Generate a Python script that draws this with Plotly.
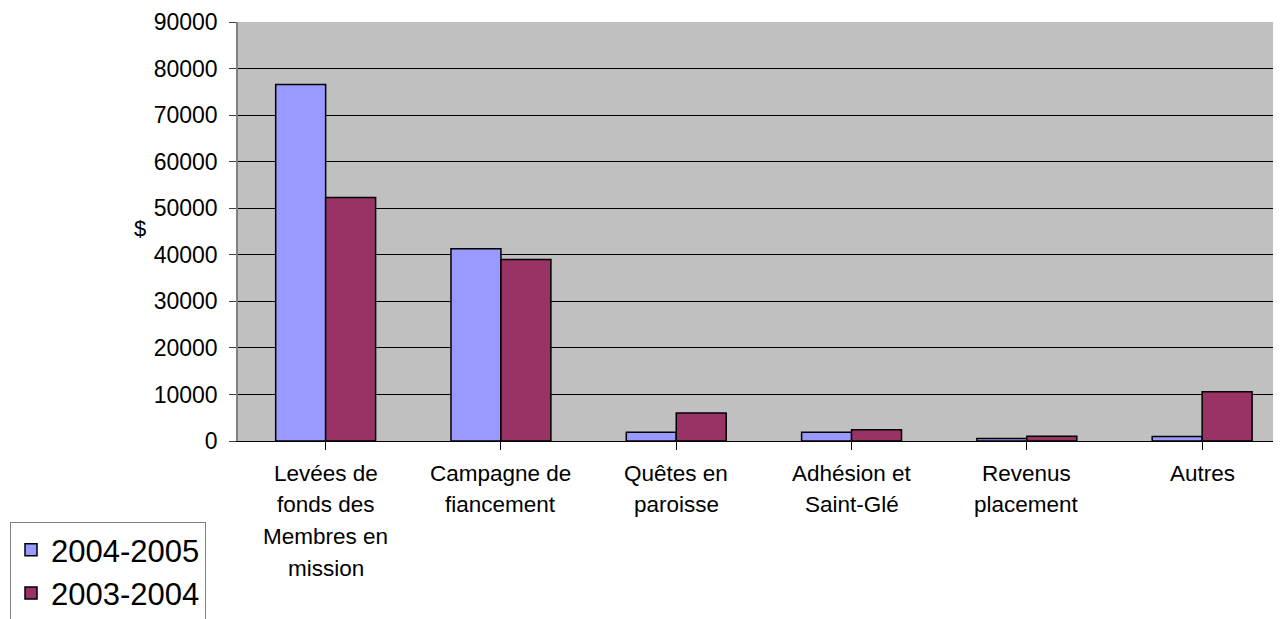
import plotly.graph_objects as go

categories = ["Levées de<br>fonds des<br>Membres en<br>mission", "Campagne de<br>fiancement",
              "Quêtes en<br>paroisse", "Adhésion et<br>Saint-Glé", "Revenus<br>placement", "Autres"]
series_names = ["2004-2005", "2003-2004"]
values_2004_2005 = [76600, 41300, 1900, 1900, 550, 950]
values_2003_2004 = [52300, 39000, 6000, 2400, 1000, 10600]
colors = ["#9999FF", "#993366"]
y_ticks = [0, 10000, 20000, 30000, 40000, 50000, 60000, 70000, 80000, 90000]

FONT = "Liberation Sans, Arial, Helvetica, sans-serif"
# the page body has an 8px margin, so the figure is drawn 8px right and down
W, H = 1273, 611
L, T, B = 230, 14, 178
PW, PH = W - L, H - T - B

fig = go.Figure()
for name, vals, col in zip(series_names, [values_2004_2005, values_2003_2004], colors):
    fig.add_trace(go.Bar(
        x=list(range(len(categories))), y=vals, name=name,
        marker=dict(color=col, line=dict(color="black", width=1.5)),
        legendgroup=name,
    ))

# category labels, drawn line by line for the wider line spacing of the original
annotations = []
for i, lab in enumerate(categories):
    for j, line in enumerate(lab.split("<br>")):
        annotations.append(dict(
            x=i, y=0, xref="x", yref="y", text=line, showarrow=False,
            xanchor="center", yanchor="middle", yshift=-32 - 31.7 * j,
            font=dict(family=FONT, size=22.5, color="black")))

annotations.append(dict(x=(132 - L) / PW, y=(T + PH - 220) / PH,
                        xref="paper", yref="paper", text="$", showarrow=False,
                        xanchor="center", yanchor="middle",
                        font=dict(family=FONT, size=22, color="black")))

fig.update_layout(
    width=W, height=H,
    margin=dict(l=L, r=0, t=T, b=B, pad=0, autoexpand=False),
    paper_bgcolor="white", plot_bgcolor="#C0C0C0",
    barmode="group", bargap=0.43, bargroupgap=0,
    font=dict(family=FONT, size=21, color="black"),
    annotations=annotations,
    showlegend=True,
    legend=dict(xref="container", yref="container", x=2 / W, y=1 - 514 / H,
                xanchor="left", yanchor="top",
                bordercolor="#808080", borderwidth=1, bgcolor="white",
                font=dict(family=FONT, size=31, color="black"),
                tracegroupgap=14, itemwidth=30,
                traceorder="normal"),
)
fig.update_xaxes(
    range=[-0.5, -0.5 + PW / 175.3], tickmode="array",
    tickvals=list(range(len(categories))), ticktext=[""] * len(categories),
    tickson="boundaries", ticks="outside", ticklen=8, tickcolor="black", tickwidth=1,
    showgrid=False, zeroline=False, showline=True, linecolor="black", linewidth=1,
    fixedrange=True, automargin=False,
)
fig.update_yaxes(
    range=[0, 90000], tickmode="array", tickvals=y_ticks, ticktext=[str(v) for v in y_ticks],
    ticks="outside", ticklen=7, tickcolor="#404040", tickwidth=1,
    showgrid=True, gridcolor="black", gridwidth=1, zeroline=False,
    showline=True, linecolor="#808080", linewidth=1.5, automargin=False,
    tickfont=dict(family=FONT, size=23, color="black"), ticklabelstandoff=7,
)

fig.write_html("out.html")
